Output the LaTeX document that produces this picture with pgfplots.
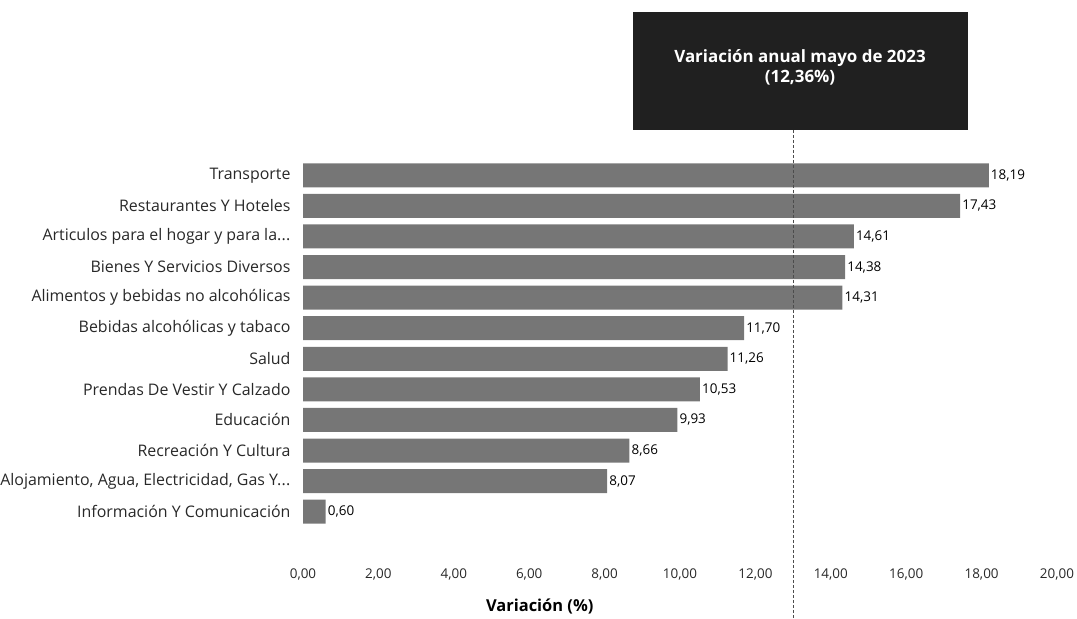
\documentclass[border=0pt]{standalone}
\usepackage{pgfplots}
\pgfplotsset{compat=1.18}
\usepackage{fontspec}
\setmainfont{Open Sans}
\definecolor{barcol}{RGB}{118,118,118}
\definecolor{boxcol}{RGB}{32,32,32}
\definecolor{labcol}{RGB}{40,40,40}
\newcommand{\tdots}{.\kern0.3pt.\kern0.3pt.}
\begin{document}
\begin{tikzpicture}
\useasboundingbox (0,0) rectangle (1077bp,619bp);
\begin{axis}[
  at={(303bp,92bp)}, anchor=south west,
  scale only axis, width=754bp, height=367bp,
  xbar, bar width=24bp,
  xmin=0, xmax=20, ymin=-0.5, ymax=11.5, y dir=reverse,
  axis line style={draw=none}, major tick length=0pt,
  clip=false,
  /pgf/number format/assume math mode=true,
  xtick={0,2,4,6,8,10,12,14,16,18,20},
  xticklabel={\pgfmathprintnumber[fixed,fixed zerofill,precision=2,use comma]{\tick}},
  xticklabel style={font=\fontsize{13.5}{15}\selectfont, text=labcol, yshift=-38bp},
  ytick={0,1,2,3,4,5,6,7,8,9,10,11},
  yticklabels={Transporte, Restaurantes Y Hoteles, {Articulos para el hogar y para la\tdots}, Bienes Y Servicios Diversos, Alimentos y bebidas no alcohólicas, Bebidas alcohólicas y tabaco, Salud, Prendas De Vestir Y Calzado, Educación, Recreación Y Cultura, {Alojamiento, Agua, Electricidad, Gas Y\tdots}, Información Y Comunicación},
  yticklabel style={font=\fontsize{16}{18}\selectfont, text=labcol, xshift=-9bp},
  xlabel={Variación (\%)},
  xlabel style={font=\bfseries\fontsize{16.5}{18}\selectfont, at={(rel axis cs:0.314,0)}, anchor=center, yshift=-79bp},
  point meta=x,
  nodes near coords={\pgfmathprintnumber[fixed,fixed zerofill,precision=2,use comma]{\pgfplotspointmeta}},
  nodes near coords style={font=\fontsize{13.5}{15}\selectfont, text=black, anchor=west, inner sep=2bp},
]
\addplot[fill=barcol, draw=none] coordinates {
  (18.19,0) (17.43,1) (14.61,2) (14.38,3) (14.31,4) (11.70,5)
  (11.26,6) (10.53,7) (9.93,8) (8.66,9) (8.07,10) (0.60,11)
};
\coordinate (L) at (axis cs:13.0,0);
\end{axis}
\fill[boxcol] (633bp,489bp) rectangle (968bp,607bp);
\node[text=white, font=\bfseries\fontsize{17}{20}\selectfont, align=center] at (800bp,552bp) {Variación anual mayo de 2023\\(12,36\%)};
\draw[dashed, gray!60!black, line width=0.8bp, dash pattern=on 3bp off 2bp] (L |- 0,489bp) -- (L |- 0,0);
\end{tikzpicture}
\end{document}
